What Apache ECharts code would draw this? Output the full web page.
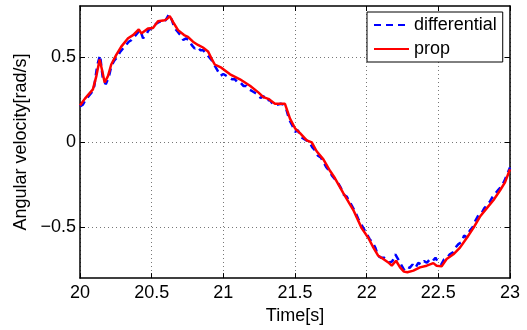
<!DOCTYPE html>
<html>
<head>
<meta charset="utf-8">
<script src="https://cdn.jsdelivr.net/npm/echarts@6/dist/echarts.min.js"></script>
<style>
html, body { margin: 0; padding: 0; background: #fff; }
#main { width: 527px; height: 330px; }
</style>
</head>
<body>
<div id="main"></div>
<script>
// differential (blue dashed)
var diffTime = [
    20.00, 20.02, 20.04, 20.06, 20.08, 20.10, 20.12, 20.14, 20.16, 20.18,
    20.20, 20.22, 20.24, 20.26, 20.28, 20.30, 20.32, 20.34, 20.36, 20.38,
    20.40, 20.42, 20.44, 20.46, 20.48, 20.50, 20.52, 20.54, 20.56, 20.58,
    20.60, 20.62, 20.64, 20.66, 20.68, 20.70, 20.72, 20.74, 20.76, 20.78,
    20.80, 20.82, 20.84, 20.86, 20.88, 20.90, 20.92, 20.94, 20.96, 20.98,
    21.00, 21.02, 21.04, 21.06, 21.08, 21.10, 21.12, 21.14, 21.16, 21.18,
    21.20, 21.22, 21.24, 21.26, 21.28, 21.30, 21.32, 21.34, 21.36, 21.38,
    21.40, 21.42, 21.44, 21.46, 21.48, 21.50, 21.52, 21.54, 21.56, 21.58,
    21.60, 21.62, 21.64, 21.66, 21.68, 21.70, 21.72, 21.74, 21.76, 21.78,
    21.80, 21.82, 21.84, 21.86, 21.88, 21.90, 21.92, 21.94, 21.96, 21.98,
    22.00, 22.02, 22.04, 22.06, 22.08, 22.10, 22.12, 22.14, 22.16, 22.18,
    22.20, 22.22, 22.24, 22.26, 22.28, 22.30, 22.32, 22.34, 22.36, 22.38,
    22.40, 22.42, 22.44, 22.46, 22.48, 22.50, 22.52, 22.54, 22.56, 22.58,
    22.60, 22.62, 22.64, 22.66, 22.68, 22.70, 22.72, 22.74, 22.76, 22.78,
    22.80, 22.82, 22.84, 22.86, 22.88, 22.90, 22.92, 22.94, 22.96, 22.98,
    23.00
];
var diffValue = [
    0.21, 0.22, 0.25, 0.27, 0.29, 0.33, 0.45, 0.51, 0.37, 0.34,
    0.38, 0.45, 0.48, 0.50, 0.53, 0.55, 0.57, 0.59, 0.60, 0.62,
    0.64, 0.66, 0.61, 0.63, 0.66, 0.67, 0.69, 0.70, 0.71, 0.70,
    0.72, 0.75, 0.72, 0.67, 0.65, 0.63, 0.60, 0.61, 0.60, 0.57,
    0.55, 0.56, 0.54, 0.54, 0.52, 0.50, 0.48, 0.45, 0.42, 0.39,
    0.40, 0.39, 0.38, 0.37, 0.37, 0.35, 0.35, 0.33, 0.33, 0.31,
    0.30, 0.29, 0.28, 0.26, 0.27, 0.24, 0.25, 0.23, 0.22, 0.22,
    0.225, 0.22, 0.19, 0.13, 0.10, 0.06, 0.07, 0.03, 0.02, 0.01,
    0.00, -0.03, -0.05, -0.08, -0.09, -0.12, -0.15, -0.17, -0.20, -0.22,
    -0.24, -0.27, -0.31, -0.32, -0.35, -0.38, -0.41, -0.45, -0.48, -0.51,
    -0.54, -0.57, -0.59, -0.62, -0.67, -0.68, -0.68, -0.69, -0.71, -0.70,
    -0.66, -0.69, -0.72, -0.75, -0.73, -0.74, -0.72, -0.74, -0.71, -0.72,
    -0.70, -0.71, -0.69, -0.70, -0.68, -0.71, -0.72, -0.69, -0.68, -0.66,
    -0.65, -0.62, -0.60, -0.59, -0.55, -0.56, -0.52, -0.50, -0.46, -0.43,
    -0.42, -0.39, -0.37, -0.35, -0.32, -0.30, -0.28, -0.26, -0.23, -0.19,
    -0.15
];

// prop (red solid)
var propTime = [
    20.000, 20.033, 20.090, 20.114, 20.137, 20.153, 20.172, 20.195, 20.218, 20.253,
    20.288, 20.335, 20.370, 20.410, 20.428, 20.474, 20.509, 20.544, 20.591, 20.609,
    20.626, 20.649, 20.684, 20.726, 20.753, 20.788, 20.823, 20.858, 20.893, 20.916,
    20.940, 20.986, 21.047, 21.116, 21.186, 21.244, 21.279, 21.314, 21.360, 21.430,
    21.465, 21.500, 21.535, 21.582, 21.617, 21.651, 21.698, 21.744, 21.779, 21.837,
    21.907, 21.965, 22.012, 22.047, 22.081, 22.116, 22.151, 22.175, 22.205, 22.233,
    22.260, 22.284, 22.326, 22.372, 22.419, 22.465, 22.488, 22.523, 22.558, 22.605,
    22.651, 22.698, 22.744, 22.791, 22.837, 22.884, 22.930, 22.965, 23.000
];
var propValue = [
    0.215, 0.254, 0.310, 0.388, 0.485, 0.427, 0.350, 0.388, 0.456, 0.513,
    0.561, 0.610, 0.629, 0.663, 0.639, 0.668, 0.671, 0.710, 0.716, 0.725,
    0.740, 0.706, 0.658, 0.629, 0.619, 0.590, 0.571, 0.556, 0.533, 0.494,
    0.456, 0.437, 0.398, 0.369, 0.331, 0.292, 0.264, 0.254, 0.225, 0.225,
    0.138, 0.081, 0.052, 0.010, -0.002, -0.054, -0.102, -0.169, -0.213, -0.300,
    -0.400, -0.506, -0.564, -0.621, -0.669, -0.688, -0.708, -0.727, -0.698, -0.737,
    -0.762, -0.766, -0.756, -0.737, -0.727, -0.712, -0.727, -0.731, -0.688, -0.660,
    -0.621, -0.564, -0.506, -0.438, -0.390, -0.342, -0.285, -0.237, -0.160
];

var seriesNames = ['differential', 'prop'];
var yTicks = [-0.5, 0, 0.5];

function pairs(xs, ys) {
    return xs.map(function (x, i) { return [x, ys[i]]; });
}

var font = 'Liberation Sans';
var gridLine = { show: true, lineStyle: { color: '#777', type: [1, 3], width: 1 } };

var myChart = echarts.init(document.getElementById('main'));

var option = {
    animation: false,
    textStyle: { fontFamily: font },
    grid: { left: 80, right: 17, top: 6, bottom: 48 },
    legend: {
        orient: 'vertical',
        left: 367,
        top: 12,
        padding: [4, 6, 4, 6],
        itemGap: 6,
        itemWidth: 35,
        itemHeight: 16,
        borderColor: '#000',
        borderWidth: 1,
        borderRadius: 0,
        backgroundColor: '#fff',
        itemStyle: { opacity: 0 },
        textStyle: { fontSize: 18, color: '#000', fontFamily: font },
        data: seriesNames
    },
    xAxis: [
        {
            type: 'value',
            min: 20,
            max: 23,
            interval: 0.5,
            name: 'Time[s]',
            nameLocation: 'middle',
            nameGap: 23,
            nameTextStyle: { fontSize: 18, color: '#000', fontFamily: font },
            axisLine: { show: true, onZero: false, lineStyle: { color: '#000', width: 1.5 } },
            axisTick: { show: true, inside: true, length: 5, lineStyle: { color: '#000' } },
            axisLabel: { fontSize: 18, color: '#000', margin: 6, fontFamily: font },
            splitLine: gridLine
        },
        {
            type: 'value',
            position: 'top',
            min: 20,
            max: 23,
            interval: 0.5,
            axisLine: { show: true, onZero: false, lineStyle: { color: '#000', width: 1.5 } },
            axisTick: { show: true, inside: true, length: 5, lineStyle: { color: '#000' } },
            axisLabel: { show: false },
            splitLine: { show: false }
        }
    ],
    yAxis: [
        {
            type: 'value',
            min: -0.8,
            max: 0.8,
            name: 'Angular velocity[rad/s]',
            nameLocation: 'middle',
            nameGap: 44,
            nameTextStyle: { fontSize: 18, color: '#000', fontFamily: font },
            axisLine: { show: true, onZero: false, lineStyle: { color: '#000', width: 1.5 } },
            axisTick: { show: true, inside: true, length: 5, customValues: yTicks, lineStyle: { color: '#000' } },
            axisLabel: {
                fontSize: 18, color: '#000', margin: 4, fontFamily: font,
                customValues: yTicks,
                formatter: function (v) { return v < 0 ? '\u2212' + Math.abs(v) : String(v); }
            },
            splitLine: gridLine
        },
        {
            type: 'value',
            position: 'right',
            min: -0.8,
            max: 0.8,
            axisLine: { show: true, onZero: false, lineStyle: { color: '#000', width: 1.5 } },
            axisTick: { show: true, inside: true, length: 5, customValues: yTicks, lineStyle: { color: '#000' } },
            axisLabel: { show: false, customValues: yTicks },
            splitLine: { show: false }
        }
    ],
    series: [
        {
            name: seriesNames[0],
            type: 'line',
            symbol: 'none',
            color: '#0000ff',
            lineStyle: { color: '#0000ff', width: 2.5, type: [7, 5] },
            data: pairs(diffTime, diffValue)
        },
        {
            name: seriesNames[1],
            type: 'line',
            symbol: 'none',
            color: '#ff0000',
            lineStyle: { color: '#ff0000', width: 2.5 },
            data: pairs(propTime, propValue)
        }
    ]
};

myChart.setOption(option);
</script>
</body>
</html>
